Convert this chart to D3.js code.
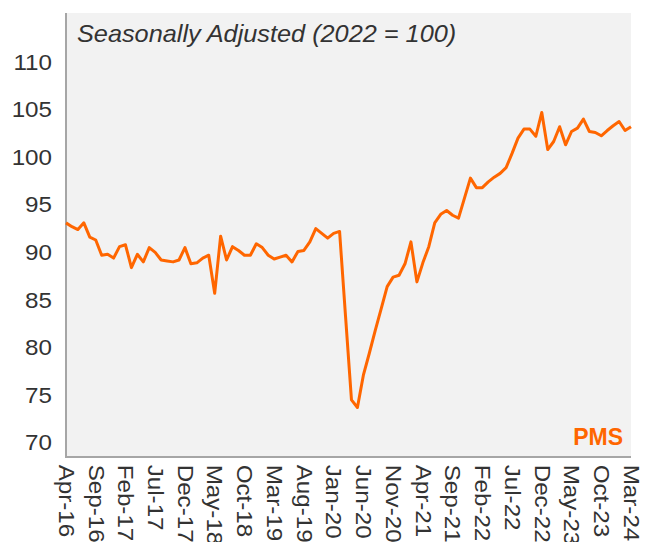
<!DOCTYPE html>
<html>
<head>
<meta charset="utf-8">
<script src="https://cdn.jsdelivr.net/npm/d3@7"></script>
<style>
  body { margin: 0; background: #fff; }
  text { font-family: "Liberation Sans", Arial, sans-serif; fill: #333; }
</style>
</head>
<body>
<svg width="646" height="542"></svg>
<script>
// monthly index, Apr-16 .. Mar-24 (seasonally adjusted, 2022 = 100)
let values = [
  93.1, 92.7, 92.4, 93.1, 91.6, 91.3, 89.7, 89.8, 89.4, 90.6, 90.8, 88.4,
  89.8, 89.0, 90.5, 90.0, 89.2, 89.1, 89.0, 89.2, 90.5, 88.8, 88.9, 89.4,
  89.7, 85.7, 91.7, 89.2, 90.6, 90.2, 89.7, 89.7, 90.9, 90.5, 89.7, 89.3,
  89.5, 89.7, 89.0, 90.1, 90.2, 91.1, 92.5, 92.0, 91.5, 92.0, 92.2, 83.3,
  74.5, 73.7, 77.1, 79.4, 81.8, 84.1, 86.4, 87.4, 87.6, 88.8, 91.1, 86.9,
  88.9, 90.6, 93.1, 94.0, 94.4, 93.9, 93.6, 95.7, 97.8, 96.8, 96.8, 97.4,
  97.9, 98.3, 98.9, 100.4, 102.0, 102.95, 102.95, 102.2, 104.7, 100.8, 101.65, 103.2,
  101.3, 102.7, 103.05, 104.0, 102.7, 102.6, 102.25, 102.8, 103.3, 103.75, 102.8, 103.2
];
let tickLabels = ["Apr-16","Sep-16","Feb-17","Jul-17","Dec-17","May-18","Oct-18","Mar-19",
  "Aug-19","Jan-20","Jun-20","Nov-20","Apr-21","Sep-21","Feb-22","Jul-22","Dec-22",
  "May-23","Oct-23","Mar-24"];
let yTicks = [70, 75, 80, 85, 90, 95, 100, 105, 110];

let svg = d3.select("svg");
let pLeft = 66, pRight = 631, pTop = 13, pBottom = 457;
let stretch = 1.1;   // labels in the original are a bit wider than Arial

let x = d3.scaleLinear().domain([0, values.length - 1]).range([pLeft, pRight]);
let y = d3.scaleLinear().domain([68.5, 115.15]).range([pBottom, pTop]);

svg.append("rect").attr("x", pLeft).attr("y", pTop)
  .attr("width", pRight - pLeft).attr("height", pBottom - pTop)
  .style("fill", "#f2f2f2");

// y axis labels
let yAxis = svg.append("g").attr("transform", "translate(" + pLeft + ",0)")
  .call(d3.axisLeft(y).tickValues(yTicks).tickSize(0));
yAxis.select(".domain").remove();
yAxis.attr("font-family", null);
yAxis.selectAll("text").style("font-size", "22px").attr("fill", null)
  .attr("x", -14 / stretch)
  .attr("transform", "scale(" + stretch + ",1)");

// x axis labels, every 5th month
let xAxis = svg.append("g").attr("transform", "translate(0," + pBottom + ")")
  .call(d3.axisBottom(x).tickValues(d3.range(0, values.length, 5))
    .tickFormat((d, i) => tickLabels[i]).tickSize(0));
xAxis.select(".domain").remove();
xAxis.attr("font-family", null);
xAxis.selectAll("text")
  .style("font-size", "22px").attr("fill", null)
  .attr("transform", "rotate(90) scale(" + stretch + ",1)")
  .attr("x", 7).attr("y", 0).attr("dy", "0.35em")
  .style("text-anchor", "start");

// axis lines
svg.append("line").attr("x1", pLeft).attr("y1", pTop).attr("x2", pLeft).attr("y2", pBottom + 1)
  .style("stroke", "#a6a6a6").style("stroke-width", "2px");
svg.append("line").attr("x1", pLeft - 1).attr("y1", pBottom).attr("x2", pRight).attr("y2", pBottom)
  .style("stroke", "#a6a6a6").style("stroke-width", "2px");

let line = d3.line().x((d, i) => x(i)).y(d => y(d));
svg.append("path").datum(values).attr("d", line)
  .style("fill", "none").style("stroke", "#ff6600").style("stroke-width", "3px")
  .style("stroke-linejoin", "round");

svg.append("text").attr("transform", "translate(77,42) scale(" + stretch + ",1)")
  .style("font-size", "23px").style("font-style", "italic")
  .text("Seasonally Adjusted (2022 = 100)");

svg.append("text").attr("x", 623).attr("y", 445)
  .style("text-anchor", "end").style("font-size", "23px").style("font-weight", "bold")
  .style("fill", "#ff6600").text("PMS");
</script>
</body>
</html>
